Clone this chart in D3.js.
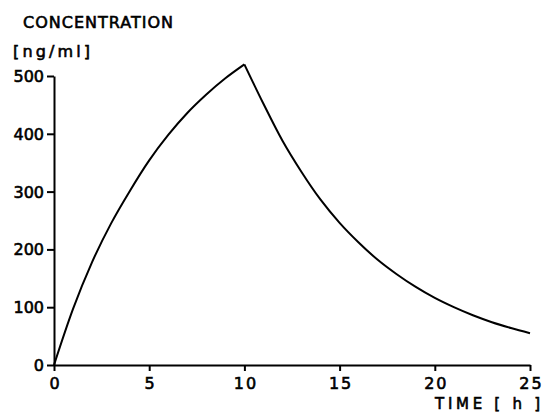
<!DOCTYPE html>
<html>
<head>
<meta charset="utf-8">
<script src="https://cdn.jsdelivr.net/npm/d3@7"></script>
<style>
  html, body { margin: 0; padding: 0; background: #fff; }
  svg text { font-family: "DejaVu Sans", sans-serif; fill: #000; stroke: #000; stroke-width: 0.6px; }
</style>
</head>
<body>
<svg id="chart" width="545" height="414"></svg>
<script>
// Data
const timeH = [0, 1, 2, 3, 4, 5, 6, 7, 8, 9, 10, 11, 12, 13, 14, 15, 16, 17, 18, 19, 20, 21, 22, 23, 24, 25];
const concentration = [0, 97, 178, 245, 302, 354, 398, 436, 468, 496, 520, 452, 388, 334, 286, 246, 212, 182, 157, 135, 116, 100, 86, 74, 64, 55];
const xTicks = [0, 5, 10, 15, 20, 25];
const yTicks = [0, 100, 200, 300, 400, 500];
const yTitle = "CONCENTRATION";
const yUnit = "[ng/ml]";
const xTitle = "TIME  [ h ]";

const svg = d3.select("#chart");
const x = d3.scaleLinear().domain([0, 25]).range([54, 530]);
const y = d3.scaleLinear().domain([0, 500]).range([365, 76]);

const data = timeH.map((t, i) => ({ t, v: concentration[i] }));

// Axes
const xAxis = svg.append("g").attr("transform", `translate(0,${y(0)})`)
  .call(d3.axisBottom(x).tickValues(xTicks).tickSize(6).tickPadding(7).tickSizeOuter(0));
const yAxis = svg.append("g").attr("transform", `translate(${x(0)},0)`)
  .call(d3.axisLeft(y).tickValues(yTicks).tickSize(7).tickPadding(3).tickSizeOuter(0));

[xAxis, yAxis].forEach(g => {
  g.select(".domain").attr("stroke", "#000").attr("stroke-width", 2);
  g.selectAll(".tick line").attr("stroke", "#000").attr("stroke-width", 2);
  g.selectAll(".tick text").attr("font-size", 16).attr("font-family", "DejaVu Sans, sans-serif").attr("fill", "#000");
});
xAxis.selectAll(".tick text").attr("letter-spacing", 2).attr("dx", 1);
yAxis.selectAll(".tick text").attr("dy", "0.34em");

// Curve: infusion phase and elimination phase drawn with a sharp peak
const line = d3.line().x(d => x(d.t)).y(d => y(d.v)).curve(d3.curveMonotoneX);
const rise = data.filter(d => d.t <= 10);
const fall = data.filter(d => d.t >= 10);
[rise, fall].forEach(seg => {
  svg.append("path").datum(seg)
    .attr("d", line)
    .attr("fill", "none")
    .attr("stroke", "#000")
    .attr("stroke-width", 2)
    .attr("stroke-linejoin", "miter");
});

// Titles
svg.append("text").attr("x", 23).attr("y", 28).attr("font-size", 16)
  .attr("textLength", 150).attr("lengthAdjust", "spacing").text(yTitle);
svg.append("text").attr("x", 13).attr("y", 57).attr("font-size", 16)
  .attr("textLength", 77).attr("lengthAdjust", "spacing").text(yUnit);
svg.append("text").attr("x", 435).attr("y", 409).attr("font-size", 15)
  .attr("textLength", 105).attr("lengthAdjust", "spacing").text(xTitle);
</script>
</body>
</html>
